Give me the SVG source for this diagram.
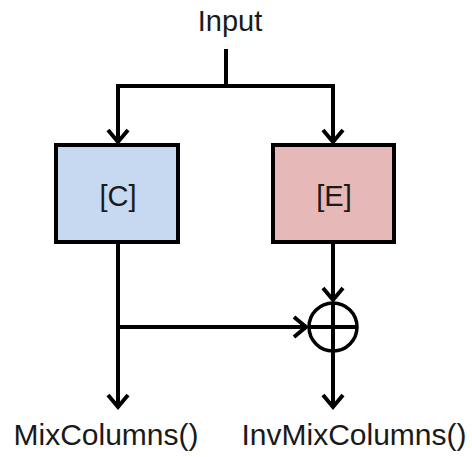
<svg xmlns="http://www.w3.org/2000/svg" width="472" height="457" viewBox="0 0 472 457">
<style>
.t{font-family:"Liberation Sans",Arial,sans-serif;font-size:29px;fill:#1a1a1a;text-anchor:middle}
.lb{font-size:30px}
.ln{stroke:#000;stroke-width:4;fill:none}
.box{stroke:#000;stroke-width:4}
</style>
<defs>
<marker id="ah" markerUnits="userSpaceOnUse" markerWidth="30" markerHeight="30" viewBox="-15 -15 30 30" refX="0" refY="0" orient="auto">
<path d="M-12,-10 L0,0 L-12,10" fill="none" stroke="#000" stroke-width="4"/>
</marker>
</defs>
<text class="t" x="230" y="31">Input</text>
<g id="connectors">
<path class="ln" d="M226,49 V86"/>
<path class="ln" d="M118,86 H333"/>
<path class="ln" d="M118,84 V142" marker-end="url(#ah)"/>
<path class="ln" d="M333,84 V142" marker-end="url(#ah)"/>
<path class="ln" d="M118,244 V407" marker-end="url(#ah)"/>
<path class="ln" d="M118,327 H306" marker-end="url(#ah)"/>
<path class="ln" d="M333,244 V300" marker-end="url(#ah)"/>
<path class="ln" d="M333,352 V407" marker-end="url(#ah)"/>
</g>
<g id="C">
<rect class="box" x="56" y="145" width="122" height="97" fill="#c6d9f0"/>
<text class="t" x="118" y="206">[C]</text>
</g>
<g id="E">
<rect class="box" x="273" y="145" width="121" height="97" fill="#e6b8b7"/>
<text class="t" x="334" y="206">[E]</text>
</g>
<g id="xor">
<circle cx="333" cy="327" r="24" fill="none" stroke="#000" stroke-width="3.5"/>
<path class="ln" d="M309,327 H357 M333,303 V351" stroke-width="3.5"/>
</g>
<text class="t lb" x="106" y="445">MixColumns()</text>
<text class="t lb" x="354" y="445">InvMixColumns()</text>
</svg>
